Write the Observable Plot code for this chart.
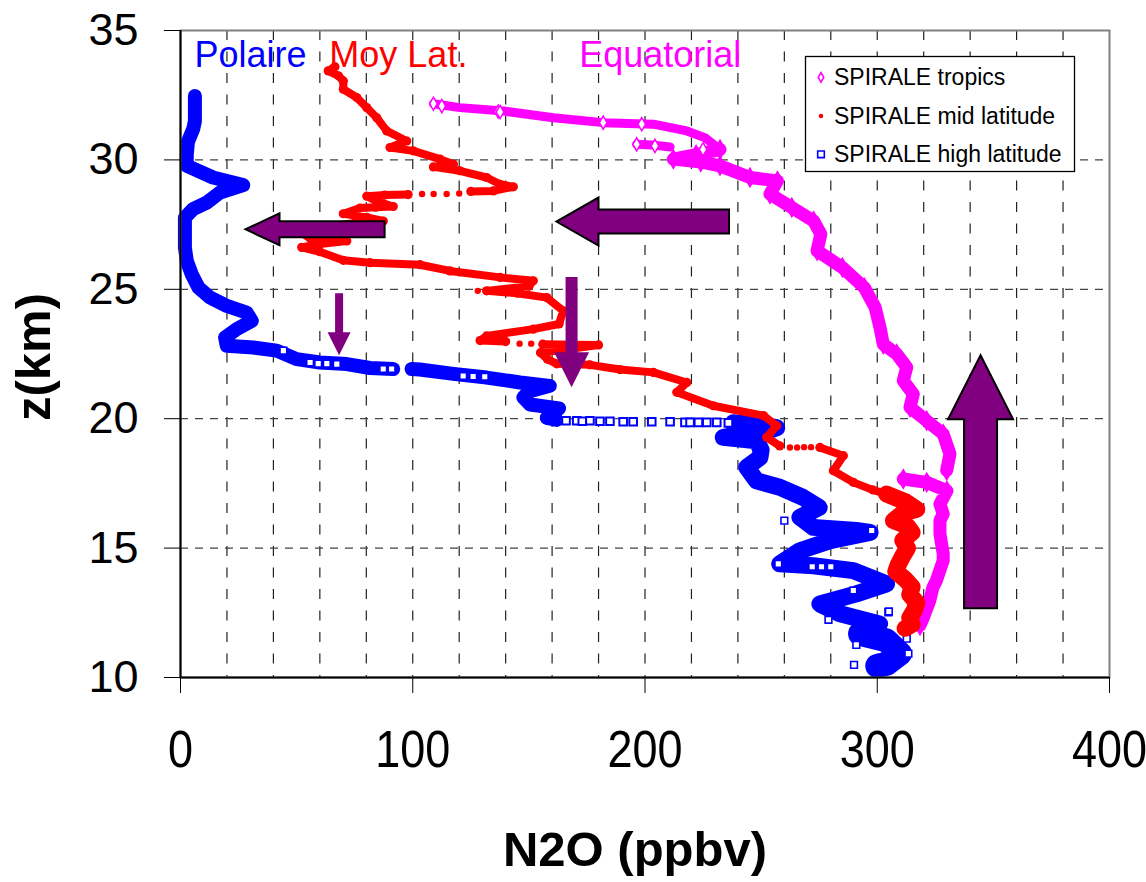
<!DOCTYPE html>
<html lang="fr">
<head>
<meta charset="utf-8">
<title>N2O profiles</title>
<script src="https://cdn.jsdelivr.net/npm/d3@7"></script>
<script src="https://cdn.jsdelivr.net/npm/@observablehq/plot@0.6"></script>
<style>
  html, body { margin: 0; padding: 0; background: #fff; }
  #chart svg { display: block; }
</style>
</head>
<body>
<div id="chart"></div>
<script>
// ---------- axes ----------
const xTicks = [0, 100, 200, 300, 400];
const yTicks = [10, 15, 20, 25, 30, 35];
const xGridLines = [20, 40, 60, 80, 100, 120, 140, 160, 180, 200, 220, 240, 260, 280, 300, 320, 340, 360, 380];
const yGridLines = [15, 20, 25, 30];
const xTitle = "N2O (ppbv)";
const yTitle = "z(km)";

// ---------- series names ----------
const seriesNames = ["SPIRALE tropics", "SPIRALE mid latitude", "SPIRALE high latitude"];
const regionNames = ["Polaire", "Moy Lat.", "Equatorial"];

// ---------- SPIRALE tropics: [N2O ppbv, z km] ----------
const tropicsUpper = [
  [108.9, 32.17], [120.3, 32.02], [139, 31.89], [160.5, 31.63], [182, 31.44], [203.6, 31.38],
  [218, 31.12], [226, 30.85], [232.3, 30.4]
];
const tropicsPiece = [[196.4, 30.6], [203, 30.58], [210.8, 30.5]];
const tropicsMiddle = [
  [232.3, 30.4], [222, 30.2], [212.2, 30.03], [224, 29.92], [232.3, 29.77], [245.2, 29.32],
  [257, 29.19], [253.8, 28.68], [263.2, 28.16], [272.6, 27.64], [275.7, 27.13], [274.1, 26.49],
  [285, 25.84], [294.4, 25.07], [299.1, 24.3], [301.2, 23.52], [302.6, 22.88], [308.4, 22.5],
  [312.7, 21.98], [311.2, 21.47], [315.5, 20.95], [314.1, 20.44], [321.3, 19.92], [328.4, 19.41],
  [331.3, 18.64], [329.9, 18.0]
];
const tropicsLower = [
  [311.2, 17.67], [321.3, 17.54], [330, 17.22], [327, 16.7], [328.4, 16.32], [327, 16.06],
  [327, 15.55], [328.4, 14.78], [328.4, 14.52], [325.5, 13.75], [324, 13.49], [322.6, 12.97],
  [319.8, 12.3], [318.4, 12.01]
];
const tropicsOpen = [
  [108.9, 32.17], [112.5, 32.08], [136.8, 31.87], [137.6, 31.85], [182, 31.44], [198.6, 31.38],
  [204.3, 30.54], [225, 30.41], [196.4, 30.6]
];

// ---------- SPIRALE mid latitude ----------
const midLatUpper = [
  [66.5, 33.6], [63.6, 33.44], [68, 33.25], [70.1, 33.05], [70.1, 32.73], [75.9, 32.41],
  [80.2, 32.02], [84.5, 31.63], [88.8, 31.12], [97.4, 30.73], [90.2, 30.48], [100.2, 30.35],
  [111.7, 30.03], [117.5, 29.83], [108.9, 29.73], [120.3, 29.58], [131.8, 29.32], [137.6, 29.06],
  [143.3, 28.96], [134.7, 28.8], [125, 28.78]
];
const midLatMiddle = [
  [98, 28.66], [88, 28.64], [80.2, 28.6], [84.5, 28.4], [91.6, 28.2], [84, 28.17], [77.3, 28.14],
  [70.1, 27.92], [80.2, 27.78], [87.3, 27.64], [75, 27.55], [62, 27.42], [52, 27.2], [56, 26.95],
  [71.6, 26.87], [60, 26.75], [52.2, 26.62], [60, 26.45], [70.1, 26.12], [81.6, 26.03],
  [103.1, 25.95], [116, 25.71], [137.6, 25.46], [151.9, 25.33], [150, 25.12], [131.8, 24.94],
  [145, 24.85], [157.7, 24.68], [164.8, 24.17], [163, 23.66], [151.9, 23.46], [131.8, 23.2],
  [129, 23.02], [140, 22.98]
];
const midLatLow = [
  [156, 22.88], [170, 22.86], [180, 22.85], [168, 22.7], [155, 22.55], [158, 22.3], [162, 22.12],
  [176.3, 22.08], [189.2, 21.9], [203.6, 21.79], [218, 21.4], [213.7, 21.02], [229.4, 20.5],
  [251, 20.12], [256.7, 19.73], [252.4, 19.28], [258, 18.95]
];
const midLatBottom = [
  [275.3, 18.89], [285.4, 18.57], [281.1, 17.99], [289.7, 17.54], [298, 17.25], [304, 17.09]
];
const midLatTroposphere = [
  [304, 17.09], [312, 16.8], [317, 16.5], [311, 16.35], [307, 16.06], [313, 15.85], [315, 15.6],
  [311, 15.3], [313, 15.0], [311, 14.7], [309, 14.35], [308, 14.1], [312, 13.8], [315, 13.5],
  [314, 13.2], [317, 12.9], [316, 12.6], [314, 12.3], [315, 12.05], [312, 11.9]
];
const midLatSparse = [
  [120, 28.7], [114.6, 28.68], [109, 28.68], [104, 28.68], [146, 22.9], [151, 22.9],
  [262.4, 18.89], [265.5, 18.89], [268.5, 18.9], [271.5, 18.9], [128, 24.94]
];

// ---------- SPIRALE high latitude ----------
const highLatUpper = [
  [6.2, 32.47], [6.2, 31.5], [5.5, 31.2], [3.2, 30.7], [2.7, 30.2], [2.7, 29.96], [2.8, 29.77],
  [14, 29.32], [27, 29.03], [17, 28.74], [11.3, 28.35], [5.4, 28.1], [1.9, 27.77], [1.9, 27.26],
  [1.9, 26.61], [2.7, 26.1], [4.8, 25.59], [7.7, 25.07], [12.7, 24.68], [19.9, 24.36], [28.5, 24.1],
  [30.7, 23.78], [24.2, 23.46], [19.2, 23.14], [19.9, 22.82], [31.3, 22.75], [41.4, 22.63],
  [50, 22.3], [60, 22.17], [71.6, 22.11], [81.6, 21.96], [91.6, 21.92]
];
const highLatMiddle = [
  [99.5, 21.92], [103, 21.9], [117.5, 21.73], [131.8, 21.59], [146.2, 21.4], [159, 21.27],
  [150, 21.05], [147.6, 20.82], [150.5, 20.55], [163, 20.4], [160, 20.2], [157.7, 20.03], [162, 19.95]
];
const highLatLower = [
  [238, 19.84], [250, 19.75], [256.7, 19.65], [252, 19.5], [238, 19.35], [233.7, 19.28], [248, 19.15],
  [250, 18.8], [249.5, 18.5], [243.8, 18.12], [248, 17.6], [258, 17.35], [268, 16.96], [275, 16.57],
  [266.7, 16.19], [272.5, 15.8], [291, 15.68], [296.9, 15.61], [279.7, 15.29], [266.7, 14.9],
  [258, 14.39], [272.5, 14.32], [289.7, 14.13], [304, 13.62], [291, 13.23], [275.3, 12.84],
  [284, 12.46], [301, 12.07], [292.6, 11.69]
];
const highLatBase = [
  [292.6, 11.69], [304, 11.43], [309.8, 10.92], [304, 10.53], [300, 10.45]
];
const highLatSparse = [
  [166, 19.92], [170.6, 19.92], [173, 19.9], [176.3, 19.92], [180.6, 19.9], [184.9, 19.9],
  [190.6, 19.88], [194.9, 19.88], [202.9, 19.88], [210.8, 19.88], [217.2, 19.86], [219.4, 19.86],
  [223, 19.86], [226.6, 19.86], [230.9, 19.86], [235.9, 19.84]
];
const highLatOpen = [
  [44.3, 22.63], [55.8, 22.17], [59.3, 22.13], [63, 22.13], [67.3, 22.11], [87.3, 21.92],
  [90.9, 21.92], [121.7, 21.65], [126, 21.63], [131, 21.62], [260, 16.06], [297.6, 15.68],
  [257.4, 14.39], [272, 14.28], [276, 14.28], [280, 14.28], [289.7, 13.36], [304.8, 12.52],
  [279, 12.23], [291, 11.26], [290, 10.49], [312.7, 11.5], [313.4, 10.92], [305, 12.55]
];

// ---------- styling ----------
const MAGENTA = "#ff00ff", RED = "#ff0000", BLUE = "#0000ff", PURPLE = "#800080";
const FONT = "Arial, 'Liberation Sans', Helvetica, sans-serif";

const rows = (segments) => segments.flatMap((seg, i) => seg.map(([n2o, z]) => ({n2o, z, seg: i})));
const pts = (arr) => arr.map(([n2o, z]) => ({n2o, z}));

const trace = (segments, color, width) =>
  Plot.line(rows(segments), {
    x: "n2o", y: "z", z: "seg", stroke: color, strokeWidth: width,
    strokeLinejoin: "round", strokeLinecap: "round"
  });

const chart = Plot.plot({
  width: 1146,
  height: 882,
  marginLeft: 180,
  marginRight: 37,
  marginTop: 30,
  marginBottom: 205,
  x: {domain: [0, 400]},
  y: {domain: [10, 35]},
  style: {fontFamily: FONT, fontSize: "45px", color: "#000", background: "#fff", overflow: "visible"},
  marks: [
    Plot.ruleX(xGridLines, {stroke: "#222", strokeWidth: 1.2, strokeDasharray: "10,11.5"}),
    Plot.ruleY(yGridLines, {stroke: "#444", strokeWidth: 1.2, strokeDasharray: "8,7"}),

    // high latitude
    trace([highLatUpper, highLatMiddle], BLUE, 14),
    trace([highLatLower], BLUE, 17),
    trace([highLatBase], BLUE, 24),
    Plot.dot(pts([...highLatUpper, ...highLatMiddle, ...highLatLower]), {x: "n2o", y: "z", symbol: "square", r: 5.5, fill: BLUE}),
    Plot.dot(pts(highLatSparse), {x: "n2o", y: "z", symbol: "square", r: 4.3, stroke: BLUE, strokeWidth: 2, fill: "#fff"}),
    Plot.dot(pts(highLatOpen), {x: "n2o", y: "z", symbol: "square", r: 3.8, stroke: BLUE, strokeWidth: 1.6, fill: "#fff"}),

    // tropics
    trace([tropicsUpper, tropicsPiece], MAGENTA, 9),
    trace([tropicsMiddle, tropicsLower], MAGENTA, 13),
    Plot.dot(pts([...tropicsMiddle, ...tropicsLower]), {x: "n2o", y: "z", symbol: "diamond", r: 6.5, fill: MAGENTA}),
    Plot.dot(pts(tropicsOpen), {x: "n2o", y: "z", symbol: "diamond", r: 4, stroke: MAGENTA, strokeWidth: 1.5, fill: "#fff"}),

    // mid latitude
    trace([midLatUpper, midLatMiddle, midLatLow, midLatBottom], RED, 8),
    trace([midLatTroposphere], RED, 17),
    Plot.dot(pts([...midLatUpper, ...midLatMiddle, ...midLatLow, ...midLatBottom]), {x: "n2o", y: "z", r: 4.6, fill: RED}),
    Plot.dot(pts(midLatTroposphere), {x: "n2o", y: "z", r: 6, fill: RED}),
    Plot.dot(pts(midLatSparse), {x: "n2o", y: "z", r: 3.2, fill: RED}),

    Plot.frame({stroke: "#808080", strokeWidth: 2}),
    Plot.ruleX([0], {stroke: "#000", strokeWidth: 2}),
    Plot.ruleY([10], {stroke: "#000", strokeWidth: 2}),
    Plot.axisX({ticks: xTicks, tickSize: 16, tickPadding: 37, label: null, fontSize: 45, tickFormat: d => String(d)}),
    Plot.axisY({ticks: yTicks, tickSize: 16, tickPadding: 26, label: null, fontSize: 45, tickFormat: d => String(d)})
  ]
});

document.getElementById("chart").appendChild(chart);

const svg = d3.select(chart);

// the bottom tick labels are drawn slightly taller than wide
svg.selectAll('[aria-label="x-axis tick label"] text').each(function() {
  const t = this.getAttribute("transform") || "";
  this.setAttribute("transform", t + " scale(1,1.15)");
});

// ---------- annotations ----------
const sx = chart.scale("x"), sy = chart.scale("y");
const X = (v) => sx.apply(v), Y = (v) => sy.apply(v);
const notes = svg.append("g")
  .attr("font-family", FONT)
  .attr("text-anchor", "start");

// region names above the profiles
const regionLabels = [
  {text: regionNames[0], n2o: 6.2, color: BLUE},
  {text: regionNames[1], n2o: 64.3, color: RED},
  {text: regionNames[2], n2o: 171.9, color: MAGENTA}
];
notes.selectAll("text.region").data(regionLabels).join("text")
  .attr("class", "region")
  .attr("x", d => X(d.n2o)).attr("y", Y(33.56))
  .attr("text-anchor", "start")
  .style("font-size", "36px").attr("fill", d => d.color)
  .text(d => d.text);

// arrows showing the direction of change
const arrows = [
  {from: [88.1, 27.3], to: [28.2, 27.3], shaft: 16, head: 32, headLen: 34, outline: true},
  {from: [236.4, 27.6], to: [162.1, 27.6], shaft: 24, head: 48, headLen: 42, outline: true},
  {from: [68.5, 24.83], to: [68.5, 22.43], shaft: 8, head: 23, headLen: 23, outline: false},
  {from: [168.6, 25.46], to: [168.6, 21.2], shaft: 12, head: 35, headLen: 35, outline: false},
  {from: [344.7, 12.66], to: [344.7, 22.43], shaft: 33, head: 65, headLen: 64, outline: true}
];
function arrowPoints(a) {
  const x1 = X(a.from[0]), y1 = Y(a.from[1]), x2 = X(a.to[0]), y2 = Y(a.to[1]);
  const L = Math.hypot(x2 - x1, y2 - y1), ux = (x2 - x1) / L, uy = (y2 - y1) / L;
  const px = -uy, py = ux;
  const bx = x2 - ux * a.headLen, by = y2 - uy * a.headLen;
  const s = a.shaft / 2, h = a.head / 2;
  return [
    [x1 + px * s, y1 + py * s], [bx + px * s, by + py * s], [bx + px * h, by + py * h],
    [x2, y2],
    [bx - px * h, by - py * h], [bx - px * s, by - py * s], [x1 - px * s, y1 - py * s]
  ];
}
notes.selectAll("polygon.arrow").data(arrows).join("polygon")
  .attr("class", "arrow")
  .attr("points", d => arrowPoints(d).map(p => p.join(",")).join(" "))
  .attr("fill", PURPLE)
  .attr("stroke", d => d.outline ? "#000" : "none")
  .attr("stroke-width", 2)
  .attr("stroke-linejoin", "miter");

// legend
const legend = notes.append("g");
legend.append("rect")
  .attr("x", 805.5).attr("y", 56.5).attr("width", 269).attr("height", 115)
  .attr("fill", "#fff").attr("stroke", "#000").attr("stroke-width", 1.3);
const legendItems = [
  {name: seriesNames[0], y: 77.3, color: MAGENTA, symbol: d3.symbolDiamond, size: 26, filled: false},
  {name: seriesNames[1], y: 116, color: RED, symbol: d3.symbolCircle, size: 16, filled: true},
  {name: seriesNames[2], y: 154.3, color: BLUE, symbol: d3.symbolSquare, size: 44, filled: false}
];
legendItems.forEach(it => {
  legend.append("path")
    .attr("transform", `translate(821,${it.y})`)
    .attr("d", d3.symbol(it.symbol, it.size)())
    .attr("fill", it.filled ? it.color : "#fff")
    .attr("stroke", it.color).attr("stroke-width", it.filled ? 0 : 1.6);
  legend.append("text")
    .attr("x", 834).attr("y", it.y + 8)
    .attr("text-anchor", "start")
    .style("font-size", "23px").attr("fill", "#000")
    .text(it.name);
});

// axis titles
notes.append("text")
  .attr("x", 635).attr("y", 866)
  .attr("text-anchor", "middle").style("font-size", "49px").attr("font-weight", "bold")
  .text(xTitle);
notes.append("text")
  .attr("transform", "translate(50,357) rotate(-90)")
  .attr("text-anchor", "middle").style("font-size", "49px").attr("font-weight", "bold")
  .text(yTitle);
</script>
</body>
</html>
